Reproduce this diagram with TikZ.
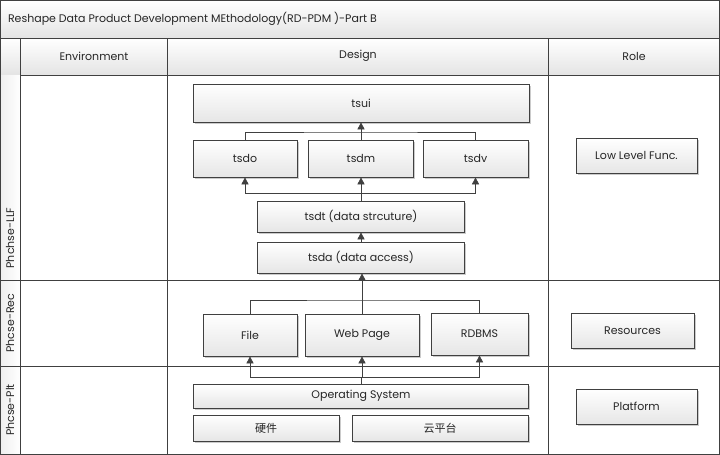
\documentclass[tikz,border=0pt]{standalone}
\usepackage{fontspec}
\setmainfont{Poppins}
\newfontfamily\cjk{Noto Sans CJK SC}
\usetikzlibrary{arrows.meta,shadows}
\definecolor{linec}{HTML}{404040}
\definecolor{textc}{HTML}{262626}
\definecolor{boxb}{HTML}{E6E6E6}
\definecolor{headb}{HTML}{E4E4E4}
\begin{document}
\begin{tikzpicture}[x=1pt,y=-1pt,
  ln/.style={draw=linec, line width=0.7pt},
  frame/.style={draw=linec, line width=0.8pt},
  bx/.style={draw=linec, line width=0.7pt, top color=white, bottom color=boxb,
    drop shadow={shadow xshift=1.6pt, shadow yshift=-1.6pt, fill=black!40, opacity=0.5},
    font=\fontsize{11}{13}\selectfont, text=textc, inner sep=0pt},
  arr/.style={-{Triangle[length=7pt,width=7pt]}, draw=linec, line width=0.7pt},
  hdr/.style={font=\fontsize{11}{13}\selectfont, text=textc},
  lane/.style={font=\fontsize{11}{13}\selectfont, text=textc, rotate=90}]
\useasboundingbox (0,0) rectangle (720,455);
% backgrounds
\shade[top color=white, bottom color=headb] (0.5,0.5) rectangle (719.5,38);
\shade[top color=white, bottom color=headb] (0.5,38) rectangle (719.5,75);
\fill[white] (0.5,75) rectangle (719.5,454);
\shade[left color=headb!60, right color=white] (0.5,75) rectangle (20,454);
% frame lines
\draw[frame] (0.5,0.5) rectangle (719.5,454);
\draw[frame] (0.5,38) -- (719.5,38);
\draw[frame] (20,38) -- (20,454);
\draw[frame] (20,75) -- (719.5,75);
\draw[frame] (167,38) -- (167,454);
\draw[frame] (548,38) -- (548,454);
\draw[frame] (0.5,280) -- (719.5,280);
\draw[frame] (0.5,366) -- (719.5,366);
% titles
\node[hdr, anchor=west] (title) at (4.5,19) {Reshape Data Product Development MEthodology(RD-PDM )-Part B};
\node[hdr] (henv) at (94,56) {Environment};
\node[hdr] (hdes) at (358,56) {Design};
\node[hdr] (hrole) at (634,56) {Role};
\node[lane] (l1) at (10,238) {Phchse-LLF};
\node[lane] (l2) at (10,323) {Phcse-Rec};
\node[lane] (l3) at (10,410) {Phcse-Plt};
% design boxes
\node[bx, minimum width=336pt, minimum height=38pt] (tsui) at (361,103) {tsui};
\node[bx, minimum width=104pt, minimum height=37pt] (tsdo) at (245,158.5) {tsdo};
\node[bx, minimum width=105pt, minimum height=37pt] (tsdm) at (361,158.5) {tsdm};
\node[bx, minimum width=105pt, minimum height=37pt] (tsdv) at (475.5,158.5) {tsdv};
\node[bx, minimum width=207pt, minimum height=31pt] (tsdt) at (361,216.5) {tsdt (data strcuture)};
\node[bx, minimum width=207pt, minimum height=31pt] (tsda) at (361,257.5) {tsda (data access)};
\node[bx, minimum width=94pt, minimum height=42pt] (file) at (250,335) {File};
\node[bx, minimum width=114pt, minimum height=42pt] (web) at (362,335) {Web Page};
\node[bx, minimum width=97pt, minimum height=42pt] (rdbms) at (479.5,334) {RDBMS};
\node[bx, minimum width=335pt, minimum height=24pt] (os) at (361,396) {Operating System};
\node[bx, minimum width=146pt, minimum height=26pt] (hw) at (266,428) {\cjk 硬件};
\node[bx, minimum width=176pt, minimum height=26pt] (cloud) at (440,428) {\cjk 云平台};
% role boxes
\node[bx, minimum width=121pt, minimum height=35pt] (llf) at (636.5,155.5) {Low Level Func.};
\node[bx, minimum width=123pt, minimum height=35pt] (res) at (632.5,330.5) {Resources};
\node[bx, minimum width=121pt, minimum height=35pt] (plat) at (636.5,406.5) {Platform};
% connectors
\coordinate (j1) at (361,132);
\draw[ln] (tsdo.north) |- (j1) -| (tsdv.north);
\draw[arr] (tsdm.north) -- (tsui.south);
\coordinate (j2) at (361,193);
\draw[ln] (tsdt.north) -- (j2);
\draw[arr] (j2) -| (tsdo.south);
\draw[arr] (j2) -| (tsdv.south);
\draw[arr] (j2) -- (tsdm.south);
\draw[arr] (tsda.north) -- (tsdt.south);
\coordinate (j3) at (362,300);
\draw[ln] (file.north) |- (j3) -| (rdbms.north);
\draw[arr] (web.north) -- (tsda.south -| web.north);
\coordinate (j4) at (361,377);
\draw[ln] (os.north) -- (j4);
\draw[arr] (j4) -| (file.south);
\draw[arr] (j4) -| (rdbms.south);
\draw[arr] (j4 -| web.south) -- (web.south);
\end{tikzpicture}
\end{document}
